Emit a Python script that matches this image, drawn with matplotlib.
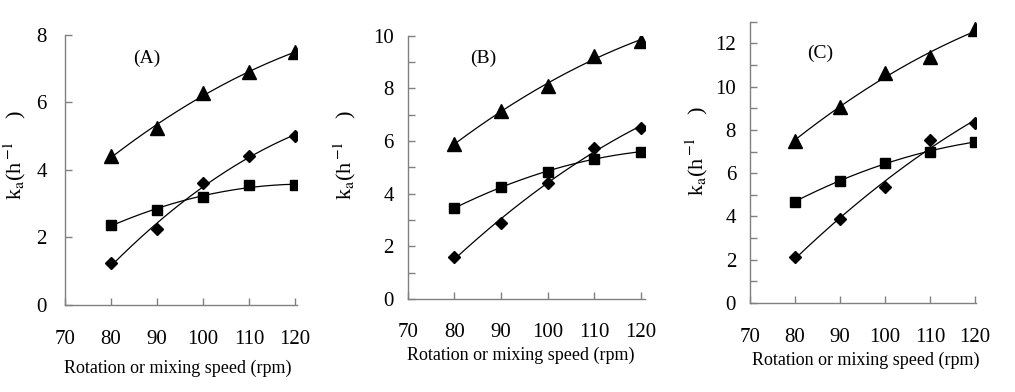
import numpy as np
import matplotlib
matplotlib.use('Agg')
import matplotlib.pyplot as plt
from matplotlib.ticker import MultipleLocator

plt.rcParams['font.family'] = ['Liberation Serif', 'DejaVu Serif']
plt.rcParams['mathtext.fontset'] = 'stix'

speed = [80, 90, 100, 110, 120]
xticks = [70, 80, 90, 100, 110, 120]

# panel A
a_tri = [4.41, 5.23, 6.29, 6.91, 7.48]
a_dia = [1.23, 2.24, 3.61, 4.41, 5.01]
a_sq = [2.37, 2.81, 3.21, 3.56, 3.54]
# panel B
b_tri = [5.89, 7.14, 8.09, 9.23, 9.81]
b_dia = [1.58, 2.90, 4.42, 5.72, 6.51]
b_sq = [3.44, 4.27, 4.84, 5.31, 5.60]
# panel C
c_tri = [7.51, 9.07, 10.62, 11.35, 12.65]
c_dia = [2.11, 3.89, 5.38, 7.54, 8.31]
c_sq = [4.69, 5.64, 6.49, 6.97, 7.46]

panels = [
    # label, series, axes rect, xlim, ylim, tick step, label coords
    dict(name='(A)', data=(a_tri, a_dia, a_sq), rect=[0.064, 0.222, 0.2286, 0.689],
         xmax=120.4, ymax=8, minor=2, ylab=(-0.216, 0.556), xlab=(0.485, -0.233),
         tag=(0.353, 0.915), xpad=18, ypad=13),
    dict(name='(B)', data=(b_tri, b_dia, b_sq), rect=[0.4017, 0.2372, 0.2338, 0.6717],
         xmax=120.9, ymax=10, minor=1, ylab=(-0.264, 0.547), xlab=(0.475, -0.213),
         tag=(0.317, 0.915), xpad=17, ypad=10),
    dict(name='(C)', data=(c_tri, c_dia, c_sq), rect=[0.7389, 0.227, 0.2227, 0.7176],
         xmax=120.2, ymax=13, minor=1, ylab=(-0.235, 0.54), xlab=(0.513, -0.203),
         tag=(0.31, 0.889), xpad=18, ypad=10),
]

fig = plt.figure(figsize=(10.15, 3.92), dpi=100)
xs = np.linspace(80, 120, 200)
markers = [('^', 10), ('D', 6.5), ('s', 7.5)]

for p in panels:
    ax = fig.add_axes(p['rect'])
    for vals, (m, ms) in zip(p['data'], markers):
        coef = np.polyfit(speed, vals, 2)
        ax.plot(xs, np.polyval(coef, xs), color='black', lw=0.9)
        ax.plot(speed, vals, linestyle='none', marker=m, ms=ms, color='black')
    ax.set_xlim(70, p['xmax'])
    ax.set_ylim(0, p['ymax'])
    ax.set_xticks(xticks)
    ax.yaxis.set_major_locator(MultipleLocator(2))
    ax.yaxis.set_minor_locator(MultipleLocator(p['minor']))
    for s in ['top', 'right']:
        ax.spines[s].set_visible(False)
    for s in ['left', 'bottom']:
        ax.spines[s].set_color('#808080')
        ax.spines[s].set_linewidth(1.0)
    ax.tick_params(which='both', direction='in', color='#808080', length=5, width=1,
                   labelsize=15)
    ax.tick_params(axis='x', pad=p['xpad'])
    ax.tick_params(axis='y', pad=p['ypad'])
    ax.set_xlabel('Rotation or mixing speed (rpm)', fontsize=13)
    ax.xaxis.label.set_va('center')
    ax.xaxis.set_label_coords(*p['xlab'])
    ax.set_ylabel(r'k$_\mathrm{a}$(h$^{\,\mathrm{-1}}$    )', fontsize=16)
    ax.yaxis.label.set_va('center')
    ax.yaxis.set_label_coords(*p['ylab'])
    ax.text(p['tag'][0], p['tag'][1], p['name'], transform=ax.transAxes,
            fontsize=14, ha='center', va='center')

fig.savefig('out.png', dpi=100)
